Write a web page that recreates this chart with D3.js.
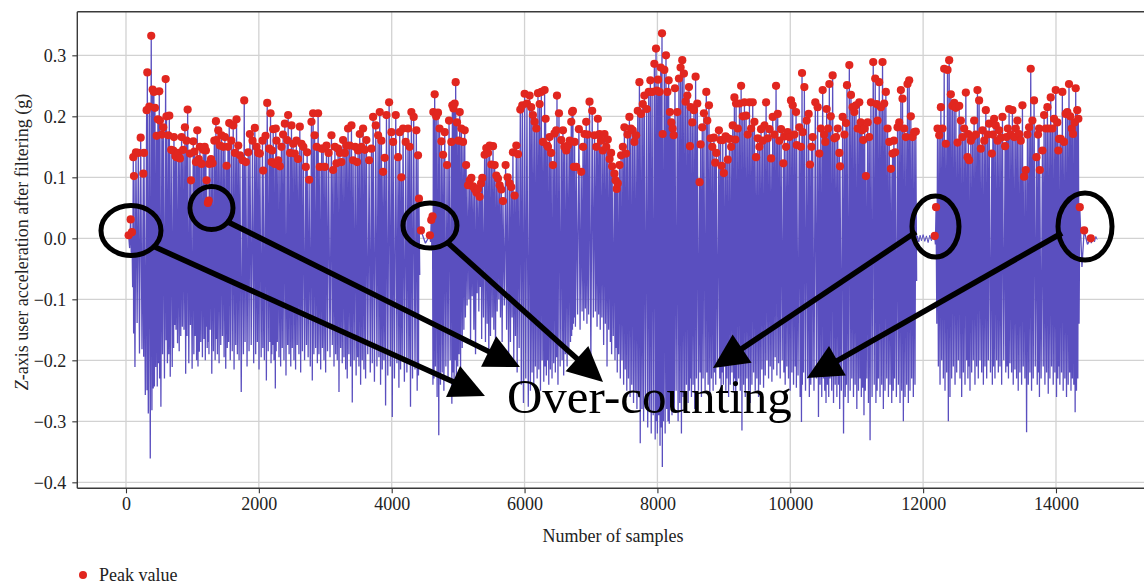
<!DOCTYPE html>
<html><head><meta charset="utf-8">
<script src="https://cdn.jsdelivr.net/npm/d3@7"></script>
<style>body{margin:0;background:#fff}svg{display:block}</style>
</head><body>
<svg id="c" width="1144" height="584"></svg>
<script>
// ---- axis ticks ----
const xTicks = [0, 2000, 4000, 6000, 8000, 10000, 12000, 14000];
const xTickLabels = ["0", "2000", "4000", "6000", "8000", "10000", "12000", "14000"];
const yTicks = [-0.4, -0.3, -0.2, -0.1, 0.0, 0.1, 0.2, 0.3];
const yTickLabels = ["\u22120.4", "\u22120.3", "\u22120.2", "\u22120.1", "0.0", "0.1", "0.2", "0.3"];

// ---- signal: each cycle = [sample of peak, peak value, following trough value] ----
const seg1 = [
[40,0.005,-0.016],[70,0.031,-0.030],[90,0.010,-0.080],[110,0.133,-0.156],[120,0.102,-0.211],[150,0.141,-0.139],
[185,0.140,-0.189],[221,0.165,-0.182],[261,0.106,-0.194],[271,0.140,-0.257],[311,0.210,-0.249],[321,0.272,-0.287],
[351,0.216,-0.361],[380,0.332,-0.282],[401,0.244,-0.246],[420,0.240,-0.243],[436,0.214,-0.211],[461,0.168,-0.243],
[480,0.195,-0.205],[501,0.241,-0.230],[511,0.193,-0.276],[540,0.170,-0.190],[561,0.182,-0.230],[597,0.261,-0.167],
[610,0.200,-0.205],[637,0.169,-0.190],[652,0.201,-0.227],[680,0.145,-0.211],[712,0.144,-0.180],[722,0.166,-0.142],
[745,0.135,-0.150],[762,0.133,-0.172],[790,0.140,-0.185],[812,0.131,-0.160],[837,0.166,-0.145],[860,0.145,-0.150],
[887,0.182,-0.222],[910,0.160,-0.160],[928,0.211,-0.205],[963,0.139,-0.142],[978,0.095,-0.214],[1013,0.159,-0.190],
[1030,0.142,-0.160],[1053,0.125,-0.200],[1073,0.177,-0.210],[1095,0.130,-0.186],[1113,0.150,-0.170],[1138,0.122,-0.195],
[1163,0.145,-0.165],[1185,0.150,-0.200],[1203,0.144,-0.145],[1213,0.095,-0.180],[1233,0.058,-0.170],[1245,0.062,-0.190],
[1253,0.122,-0.150],[1280,0.130,-0.222],[1303,0.123,-0.185],[1330,0.160,-0.200],[1354,0.192,-0.165],[1364,0.161,-0.190],
[1389,0.177,-0.205],[1414,0.152,-0.175],[1439,0.169,-0.160],[1465,0.150,-0.195],[1489,0.166,-0.214],[1514,0.119,-0.180],
[1535,0.150,-0.170],[1554,0.189,-0.200],[1585,0.160,-0.185],[1614,0.185,-0.215],[1640,0.140,-0.175],[1664,0.195,-0.190],
[1690,0.152,-0.200],[1715,0.136,-0.252],[1755,0.128,-0.190],[1780,0.226,-0.170],[1805,0.125,-0.210],[1840,0.141,-0.185],
[1865,0.171,-0.175],[1905,0.160,-0.205],[1940,0.181,-0.190],[1965,0.150,-0.170],[1990,0.140,-0.215],[2015,0.139,-0.195],
[2055,0.160,-0.180],[2065,0.111,-0.200],[2101,0.168,-0.233],[2126,0.222,-0.185],[2156,0.147,-0.170],[2176,0.205,-0.205],
[2191,0.125,-0.190],[2200,0.144,-0.175],[2216,0.179,-0.200],[2241,0.122,-0.246],[2255,0.180,-0.185],[2266,0.160,-0.170],
[2290,0.128,-0.195],[2316,0.118,-0.210],[2340,0.150,-0.180],[2365,0.170,-0.200],[2391,0.188,-0.225],[2426,0.161,-0.175],
[2441,0.202,-0.190],[2470,0.140,-0.210],[2491,0.185,-0.180],[2516,0.155,-0.200],[2541,0.139,-0.215],[2565,0.160,-0.175],
[2590,0.130,-0.190],[2617,0.183,-0.220],[2642,0.155,-0.185],[2670,0.150,-0.200],[2707,0.117,-0.175],[2727,0.141,-0.195],
[2757,0.096,-0.210],[2792,0.191,-0.233],[2817,0.205,-0.190],[2840,0.169,-0.180],[2870,0.150,-0.205],[2892,0.205,-0.190],
[2917,0.117,-0.215],[2945,0.147,-0.180],[2968,0.147,-0.200],[2993,0.117,-0.220],[3018,0.152,-0.185],[3050,0.140,-0.195],
[3093,0.169,-0.175],[3118,0.112,-0.210],[3145,0.150,-0.190],[3168,0.123,-0.200],[3193,0.147,-0.252],[3220,0.140,-0.180],
[3243,0.125,-0.205],[3268,0.161,-0.195],[3295,0.140,-0.215],[3318,0.152,-0.230],[3343,0.180,-0.190],[3368,0.152,-0.210],
[3394,0.185,-0.269],[3419,0.128,-0.200],[3450,0.150,-0.225],[3479,0.125,-0.195],[3494,0.144,-0.210],[3519,0.171,-0.240],
[3545,0.150,-0.200],[3569,0.180,-0.215],[3595,0.145,-0.230],[3619,0.161,-0.190],[3660,0.128,-0.220],[3695,0.147,-0.205],
[3720,0.199,-0.235],[3760,0.185,-0.210],[3795,0.169,-0.195],[3820,0.207,-0.240],[3845,0.160,-0.215],[3870,0.109,-0.200],
[3895,0.132,-0.274],[3921,0.202,-0.225],[3961,0.223,-0.210],[3996,0.174,-0.293],[4021,0.158,-0.230],[4061,0.202,-0.205],
[4096,0.133,-0.245],[4121,0.174,-0.215],[4146,0.100,-0.200],[4171,0.180,-0.235],[4211,0.158,-0.220],[4246,0.180,-0.205],
[4270,0.150,-0.276],[4296,0.207,-0.230],[4331,0.199,-0.215],[4371,0.177,-0.250],[4396,0.136,-0.225],[4410,0.065,-0.060]
];
const seg2 = [
[4440,0.013,-0.008],[4575,0.005,-0.006],[4595,0.030,-0.020],[4615,0.036,-0.240],
[4627,0.207,-0.230],[4647,0.236,-0.210],[4670,0.200,-0.260],[4697,0.206,-0.323],[4720,0.180,-0.240],[4748,0.159,-0.220],
[4773,0.137,-0.250],[4798,0.174,-0.210],[4833,0.120,-0.230],[4863,0.193,-0.200],[4898,0.158,-0.271],[4913,0.218,-0.220],
[4930,0.213,-0.240],[4948,0.221,-0.200],[4963,0.256,-0.230],[4983,0.190,-0.210],[5005,0.160,-0.190],[5024,0.207,-0.220],
[5049,0.180,-0.180],[5074,0.158,-0.150],[5099,0.177,-0.130],[5120,0.120,-0.110],[5149,0.087,-0.100],[5175,0.095,-0.170],
[5199,0.099,-0.095],[5225,0.085,-0.150],[5249,0.081,-0.190],[5275,0.075,-0.090],[5299,0.081,-0.120],[5324,0.068,-0.080],
[5345,0.090,-0.165],[5364,0.099,-0.130],[5399,0.137,-0.170],[5424,0.148,-0.140],[5450,0.140,-0.200],[5474,0.152,-0.160],
[5500,0.121,-0.130],[5525,0.151,-0.150],[5550,0.120,-0.180],[5575,0.103,-0.120],[5600,0.098,-0.100],[5625,0.087,-0.130],
[5650,0.080,-0.170],[5675,0.061,-0.110],[5715,0.120,-0.150],[5745,0.100,-0.200],[5775,0.090,-0.170],[5800,0.084,-0.130],
[5825,0.141,-0.200],[5850,0.070,-0.160],[5876,0.152,-0.220],[5901,0.138,-0.180],[5936,0.211,-0.240],[5966,0.218,-0.270],
[6001,0.237,-0.230],[6036,0.221,-0.276],[6076,0.234,-0.250],[6100,0.215,-0.220],[6126,0.202,-0.240],[6151,0.191,-0.210],
[6177,0.180,-0.230],[6202,0.238,-0.215],[6227,0.220,-0.250],[6252,0.240,-0.200],[6277,0.158,-0.235],[6302,0.243,-0.210],
[6317,0.196,-0.225],[6340,0.152,-0.200],[6352,0.150,-0.240],[6377,0.166,-0.215],[6400,0.140,-0.230],[6427,0.120,-0.205],
[6450,0.172,-0.220],[6477,0.177,-0.195],[6488,0.234,-0.240],[6518,0.205,-0.210],[6553,0.161,-0.200],[6578,0.177,-0.225],
[6600,0.150,-0.190],[6628,0.144,-0.210],[6653,0.152,-0.180],[6680,0.160,-0.170],[6703,0.191,-0.160],[6715,0.207,-0.150],
[6728,0.209,-0.140],[6743,0.117,-0.130],[6753,0.158,-0.145],[6778,0.117,-0.125],[6818,0.179,-0.150],[6853,0.109,-0.120],
[6880,0.150,-0.135],[6903,0.171,-0.115],[6928,0.191,-0.140],[6950,0.170,-0.125],[6978,0.224,-0.200],[7018,0.209,-0.130],
[7053,0.169,-0.120],[7080,0.150,-0.145],[7103,0.196,-0.125],[7128,0.171,-0.150],[7150,0.160,-0.130],[7178,0.144,-0.175],
[7203,0.171,-0.140],[7230,0.150,-0.210],[7253,0.162,-0.150],[7280,0.130,-0.170],[7303,0.140,-0.190],[7318,0.118,-0.160],
[7353,0.106,-0.200],[7370,0.095,-0.180],[7388,0.081,-0.220],[7403,0.090,-0.190],[7430,0.120,-0.230],[7453,0.136,-0.200],
[7480,0.150,-0.240],[7503,0.182,-0.215],[7528,0.139,-0.250],[7550,0.170,-0.230],[7578,0.199,-0.260],[7600,0.180,-0.240],
[7628,0.177,-0.270],[7653,0.158,-0.250],[7679,0.169,-0.280],[7704,0.209,-0.260],[7729,0.256,-0.336],[7754,0.204,-0.280],
[7780,0.220,-0.300],[7804,0.234,-0.260],[7839,0.212,-0.310],[7869,0.240,-0.280],[7894,0.259,-0.320],[7920,0.240,-0.290],
[7954,0.286,-0.330],[7979,0.311,-0.300],[7989,0.242,-0.320],[8010,0.260,-0.290],[8029,0.240,-0.340],[8050,0.280,-0.310],
[8069,0.336,-0.375],[8079,0.171,-0.300],[8104,0.276,-0.320],[8129,0.300,-0.280],[8150,0.240,-0.300],[8169,0.259,-0.304],
[8189,0.207,-0.270],[8210,0.190,-0.290],[8229,0.180,-0.260],[8245,0.169,-0.280],[8264,0.246,-0.250],[8299,0.207,-0.300],
[8324,0.262,-0.270],[8349,0.280,-0.320],[8374,0.292,-0.260],[8399,0.270,-0.280],[8424,0.224,-0.240],[8450,0.234,-0.270],
[8475,0.248,-0.250],[8490,0.151,-0.230],[8500,0.215,-0.260],[8525,0.190,-0.240],[8550,0.210,-0.280],[8575,0.265,-0.230],
[8600,0.221,-0.250],[8635,0.092,-0.220],[8650,0.154,-0.260],[8675,0.182,-0.230],[8700,0.205,-0.250],[8736,0.240,-0.220],
[8751,0.193,-0.240],[8776,0.218,-0.260],[8801,0.164,-0.230],[8826,0.150,-0.250],[8851,0.165,-0.220],[8870,0.124,-0.240],
[8886,0.140,-0.210],[8926,0.177,-0.230],[8951,0.161,-0.250],[8966,0.119,-0.220],[8984,0.161,-0.240],[9000,0.107,-0.210],
[9026,0.167,-0.250],[9034,0.166,-0.230],[9059,0.129,-0.260],[9084,0.163,-0.240],[9110,0.150,-0.220],[9134,0.185,-0.250],
[9159,0.231,-0.230],[9174,0.162,-0.260],[9184,0.221,-0.240],[9210,0.180,-0.230],[9235,0.221,-0.250],[9260,0.250,-0.315],
[9285,0.200,-0.240],[9310,0.223,-0.260],[9335,0.201,-0.230],[9360,0.170,-0.250],[9385,0.223,-0.270],[9410,0.180,-0.240],
[9435,0.223,-0.220],[9460,0.191,-0.250],[9485,0.133,-0.230],[9510,0.164,-0.260],[9535,0.150,-0.240],[9560,0.179,-0.215],
[9585,0.160,-0.245],[9611,0.185,-0.225],[9636,0.223,-0.200],[9661,0.164,-0.230],[9686,0.179,-0.210],[9711,0.131,-0.235],
[9736,0.199,-0.215],[9760,0.170,-0.195],[9786,0.250,-0.225],[9811,0.204,-0.205],[9836,0.160,-0.230],[9861,0.179,-0.200],
[9896,0.123,-0.220],[9911,0.167,-0.240],[9936,0.150,-0.210],[9961,0.174,-0.230],[9986,0.166,-0.250],[10011,0.226,-0.220],
[10037,0.218,-0.240],[10062,0.170,-0.210],[10087,0.207,-0.245],[10097,0.153,-0.225],[10137,0.182,-0.260],[10160,0.150,-0.301],
[10177,0.271,-0.240],[10187,0.174,-0.220],[10212,0.248,-0.250],[10247,0.193,-0.230],[10277,0.204,-0.260],[10297,0.121,-0.240],
[10320,0.150,-0.220],[10337,0.166,-0.250],[10377,0.223,-0.230],[10412,0.215,-0.293],[10437,0.139,-0.240],[10460,0.180,-0.260],
[10488,0.243,-0.230],[10510,0.170,-0.250],[10528,0.158,-0.270],[10548,0.212,-0.240],[10570,0.180,-0.260],[10588,0.253,-0.230],
[10610,0.200,-0.250],[10638,0.267,-0.270],[10664,0.164,-0.240],[10689,0.166,-0.260],[10714,0.180,-0.240],[10739,0.140,-0.280],
[10749,0.118,-0.250],[10789,0.199,-0.320],[10815,0.170,-0.260],[10839,0.189,-0.240],[10854,0.251,-0.270],[10889,0.284,-0.250],
[10914,0.235,-0.230],[10939,0.215,-0.260],[10964,0.207,-0.240],[10989,0.218,-0.280],[11015,0.180,-0.250],[11039,0.223,-0.230],
[11060,0.190,-0.260],[11079,0.177,-0.245],[11099,0.161,-0.290],[11120,0.180,-0.250],[11139,0.102,-0.230],[11165,0.190,-0.270],
[11189,0.166,-0.331],[11214,0.223,-0.260],[11249,0.289,-0.240],[11279,0.262,-0.270],[11300,0.220,-0.250],[11314,0.193,-0.230],
[11339,0.256,-0.260],[11364,0.215,-0.240],[11389,0.289,-0.280],[11414,0.221,-0.250],[11439,0.240,-0.230],[11465,0.180,-0.260],
[11490,0.158,-0.240],[11515,0.114,-0.270],[11540,0.139,-0.250],[11560,0.160,-0.230],[11580,0.141,-0.260],[11615,0.182,-0.240],
[11640,0.190,-0.270],[11665,0.243,-0.250],[11690,0.229,-0.300],[11715,0.180,-0.260],[11740,0.166,-0.240],[11765,0.253,-0.270],
[11790,0.259,-0.250],[11815,0.200,-0.230],[11840,0.166,-0.260],[11865,0.174,-0.240],[11890,0.175,-0.070]
];
const seg3 = [
[12175,0.004,-0.010],[12195,0.051,-0.140],
[12217,0.180,-0.210],[12242,0.169,-0.240],[12267,0.215,-0.200],[12292,0.180,-0.230],[12317,0.278,-0.250],[12342,0.155,-0.220],
[12367,0.276,-0.300],[12392,0.292,-0.260],[12417,0.236,-0.230],[12442,0.217,-0.210],[12468,0.222,-0.240],[12493,0.214,-0.220],
[12518,0.157,-0.200],[12543,0.217,-0.230],[12568,0.193,-0.260],[12593,0.166,-0.220],[12618,0.180,-0.240],[12643,0.239,-0.200],
[12668,0.133,-0.230],[12680,0.171,-0.210],[12693,0.128,-0.250],[12718,0.160,-0.220],[12743,0.166,-0.200],[12768,0.193,-0.240],
[12793,0.170,-0.210],[12818,0.243,-0.230],[12843,0.226,-0.200],[12869,0.147,-0.220],[12894,0.177,-0.240],[12920,0.160,-0.210],
[12944,0.210,-0.230],[12970,0.170,-0.200],[12994,0.188,-0.220],[13034,0.139,-0.240],[13050,0.170,-0.210],[13069,0.196,-0.230],
[13094,0.185,-0.200],[13120,0.160,-0.220],[13144,0.177,-0.210],[13170,0.165,-0.240],[13194,0.199,-0.200],[13234,0.151,-0.220],
[13254,0.166,-0.210],[13275,0.180,-0.230],[13294,0.212,-0.205],[13320,0.170,-0.220],[13344,0.210,-0.240],[13369,0.166,-0.215],
[13395,0.180,-0.230],[13419,0.193,-0.250],[13444,0.171,-0.220],[13470,0.160,-0.240],[13495,0.218,-0.210],[13520,0.101,-0.230],
[13545,0.112,-0.318],[13570,0.170,-0.240],[13595,0.182,-0.220],[13620,0.278,-0.250],[13645,0.193,-0.230],[13670,0.226,-0.210],
[13706,0.133,-0.240],[13730,0.170,-0.220],[13746,0.180,-0.260],[13756,0.112,-0.230],[13796,0.144,-0.210],[13821,0.202,-0.240],
[13846,0.180,-0.220],[13871,0.215,-0.255],[13896,0.180,-0.230],[13921,0.231,-0.210],[13946,0.180,-0.240],[13971,0.196,-0.220],
[13996,0.243,-0.260],[14020,0.190,-0.230],[14036,0.144,-0.210],[14046,0.163,-0.240],[14071,0.163,-0.220],[14096,0.240,-0.250],
[14121,0.158,-0.230],[14146,0.204,-0.260],[14171,0.207,-0.240],[14196,0.253,-0.220],[14215,0.200,-0.250],[14237,0.180,-0.230],
[14257,0.171,-0.240],[14280,0.190,-0.285],[14297,0.246,-0.250],[14320,0.210,-0.230],[14337,0.196,-0.140],
[14358,0.051,-0.047],[14424,0.013,-0.010],[14524,0.000,-0.008]
];
// quiet stretches (no detected peaks) : [sample, value]
const gapNoise = [[11900,-0.020],[11915,0.004],[11935,-0.006],[11955,0.005],[11975,-0.004],[12000,0.006],[12025,-0.005],
[12050,0.004],[12075,-0.007],[12100,0.005],[12125,-0.004],[12150,0.006],[12170,-0.003]];
const tailNoise = [[14530,-0.008],[14545,-0.004],[14560,0.004],[14580,-0.006],[14600,0.003],[14620,-0.002]];

// annotations (data coordinates)
const ellipses = [[75,0.0128,30,25],[1287,0.0497,21.5,21.5],[4576,0.021,27,22.5],[12186,0.0193,23.5,30.5],[14437,0.0193,27,33.5]];
const arrows = [[437,-0.0143,5404,-0.2585],[1505,0.0284,5931,-0.211],[4832,-0.0061,7181,-0.2356],
[11892,0.0103,8837,-0.2126],[14090,0.0087,10252,-0.229]];
const annotationText = {label:"Over-counting", s:5735, v:-0.2864};

// ---- drawing ----
const svg = d3.select("#c");
const FONT = "'Liberation Serif','DejaVu Serif',serif";
const PL = 77.3, PR = 1144, PT = 11.7, PB = 488.3;
const x = d3.scaleLinear().domain([-733, 15325]).range([PL, PR]);
const y = d3.scaleLinear().domain([-0.4098, 0.3715]).range([PB, PT]);

svg.append("defs").append("clipPath").attr("id","plot")
  .append("rect").attr("x",PL).attr("y",PT).attr("width",PR-PL+10).attr("height",PB-PT);

// grid
const grid = svg.append("g");
grid.selectAll(".vg").data(xTicks).join("line")
  .attr("x1",d=>x(d)).attr("x2",d=>x(d)).attr("y1",PT).attr("y2",PB)
  .attr("stroke","#d2d2d2").attr("stroke-width",1.3);
grid.selectAll(".hg").data(yTicks).join("line")
  .attr("x1",PL).attr("x2",PR).attr("y1",d=>y(d)).attr("y2",d=>y(d))
  .attr("stroke","#d2d2d2").attr("stroke-width",1.3);

const plot = svg.append("g").attr("clip-path","url(#plot)");
function cyclePoints(seg){
  const pts=[];
  seg.forEach((c,i)=>{
    pts.push([c[0],c[1]]);
    const nx = i<seg.length-1 ? seg[i+1][0] : c[0]+24;
    pts.push([(c[0]+nx)/2, c[2]]);
  });
  return pts;
}
const line = d3.line().x(d=>x(d[0])).y(d=>y(d[1]));
const sigColor = "#5a4fbf";
[seg1,seg2,seg3].forEach(seg=>{
  plot.append("path").attr("d",line(cyclePoints(seg))).attr("fill","none")
    .attr("stroke",sigColor).attr("stroke-width",1.3).attr("stroke-linejoin","bevel");
});
[gapNoise,tailNoise].forEach(n=>{
  plot.append("path").attr("d",line(n)).attr("fill","none").attr("stroke",sigColor).attr("stroke-width",1);
});
// peaks
const peaks = seg1.concat(seg2,seg3);
plot.selectAll("circle.pk").data(peaks).join("circle").attr("class","pk")
  .attr("cx",d=>x(d[0])).attr("cy",d=>y(d[1])).attr("r",4.1).attr("fill","#e1261f");

// axes
const xAxis = d3.axisBottom(x).tickValues(xTicks).tickFormat((d,i)=>xTickLabels[i]).tickSize(5).tickPadding(4);
const gx = svg.append("g").attr("transform",`translate(0,${PB})`).call(xAxis);
const yAxis = d3.axisLeft(y).tickValues(yTicks).tickFormat((d,i)=>yTickLabels[i]).tickSize(5).tickPadding(6);
const gy = svg.append("g").attr("transform",`translate(${PL},0)`).call(yAxis);
[gx,gy].forEach(g=>{
  g.select(".domain").remove();
  g.selectAll(".tick line").attr("stroke","#333").attr("stroke-width",1.1);
  g.selectAll("text").attr("font-family",FONT).attr("font-size",18).attr("fill","#222");
});
// frame
const frame = svg.append("g").attr("stroke","#3a3a3a").attr("stroke-width",1.4);
frame.append("line").attr("x1",PL).attr("x2",PR).attr("y1",PT).attr("y2",PT);
frame.append("line").attr("x1",PL).attr("x2",PR).attr("y1",PB).attr("y2",PB);
frame.append("line").attr("x1",PL).attr("x2",PL).attr("y1",PT).attr("y2",PB);

// labels
svg.append("text").attr("x",x(7330)).attr("y",542).attr("text-anchor","middle")
  .attr("font-family",FONT).attr("font-size",18).attr("fill","#222").text("Number of samples");
const yl = svg.append("text").attr("transform",`translate(28,${(PT+PB)/2-8}) rotate(-90)`)
  .attr("text-anchor","middle").attr("font-family",FONT).attr("font-size",18).attr("fill","#222");
yl.append("tspan").attr("font-style","italic").text("Z");
yl.append("tspan").text("-axis user acceleration after filtering (g)");

// legend
svg.append("circle").attr("cx",83).attr("cy",575).attr("r",4).attr("fill","#e1261f");
svg.append("text").attr("x",99).attr("y",581).attr("font-family",FONT).attr("font-size",18).attr("fill","#222").text("Peak value");

// annotations
const ann = svg.append("g");
ann.selectAll("ellipse").data(ellipses).join("ellipse")
  .attr("cx",d=>x(d[0])).attr("cy",d=>y(d[1])).attr("rx",d=>d[2]).attr("ry",d=>d[3])
  .attr("fill","none").attr("stroke","#000").attr("stroke-width",5);
arrows.forEach(a=>{
  const x1=x(a[0]), y1=y(a[1]), x2=x(a[2]), y2=y(a[3]);
  const dx=x2-x1, dy=y2-y1, L=Math.hypot(dx,dy), ux=dx/L, uy=dy/L;
  const hl=35, hw=17;
  const bx=x2-ux*hl, by=y2-uy*hl;
  ann.append("line").attr("x1",x1).attr("y1",y1).attr("x2",bx+ux*2).attr("y2",by+uy*2)
    .attr("stroke","#000").attr("stroke-width",5.5);
  ann.append("path").attr("d",`M${x2},${y2}L${bx-uy*hw},${by+ux*hw}L${bx+uy*hw},${by-ux*hw}Z`).attr("fill","#000");
});
ann.append("text").attr("x",x(annotationText.s)).attr("y",y(annotationText.v))
  .attr("font-family",FONT).attr("font-size",49).attr("fill","#000").text(annotationText.label);
</script>
</body></html>
